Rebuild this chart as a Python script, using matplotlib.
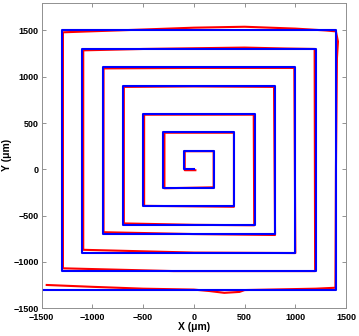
import numpy as np
import matplotlib.pyplot as plt

plt.rcParams['font.family'] = ['Liberation Sans', 'DejaVu Sans']

# designed square spiral (blue), vertices in um
blue_x = [0, -100, -100, 200, 200, -300, -300, 400, 400, -500, -500, 600, 600, -700, -700,
          800, 800, -900, -900, 1000, 1000, -1100, -1100, 1200, 1200, -1300, -1300, 1400, 1400, -1500]
blue_y = [0, 0, 200, 200, -200, -200, 400, 400, -400, -400, 600, 600, -600, -600, 900,
          900, -700, -700, 1100, 1100, -900, -900, 1300, 1300, -1100, -1100, 1500, 1500, -1300, -1300]

red_x = [15, -90, -90, 195, 195, -290, -290, 395, 395, -490, -490, 590, 595, 0, -690,
         -690, 0, 790, 800, 0, -890, -890, 0, 990, 1000, 0, -1090, -1090, -500, 500,
         900, 1190, 1195, -200, -1290, -1290, -500, 0, 500, 1000, 1300, 1400, 1420, 1410,
         1400, 1395, 1200, 500, 450, 300, 150, 0, -500, -1000, -1450]
red_y = [-10, -10, 195, 195, -195, -205, 395, 395, -405, -395, 590, 590, -605, -600, -585,
         890, 895, 890, -710, -700, -680, 1090, 1095, 1095, -905, -900, -870, 1285, 1300, 1315,
         1305, 1300, -1100, -1100, -1070, 1480, 1510, 1530, 1540, 1520, 1500, 1490, 1380, 1200,
         0, -1280, -1290, -1305, -1325, -1335, -1315, -1300, -1290, -1270, -1250]

fig = plt.figure(figsize=(3.59, 3.36), dpi=100)
ax = fig.add_axes([0.116, 0.083, 0.848, 0.909])

ax.plot(red_x, red_y, color='red', lw=1.5, solid_joinstyle='round')
ax.plot(blue_x, blue_y, color='blue', lw=1.5)

ax.set_xlim(-1500, 1500)
ax.set_ylim(-1500, 1800)
ax.set_xticks([-1500, -1000, -500, 0, 500, 1000, 1500])
ax.set_yticks([-1500, -1000, -500, 0, 500, 1000, 1500])
ax.tick_params(direction='in', length=3, width=0.6, color='#808080', labelsize=6.5,
               top=True, right=True, pad=2)
ax.tick_params(axis='x', pad=3.5)
for lab in ax.get_xticklabels() + ax.get_yticklabels():
    lab.set_fontweight('bold')
for s in ax.spines.values():
    s.set_color('#909090')
    s.set_linewidth(0.7)

ax.set_xlabel('X (\u03bcm)', fontsize=7.5, fontweight='bold', labelpad=0)
ax.set_ylabel('Y (\u03bcm)', fontsize=7.5, fontweight='bold', labelpad=1)

plt.savefig('out.png', dpi=100)
